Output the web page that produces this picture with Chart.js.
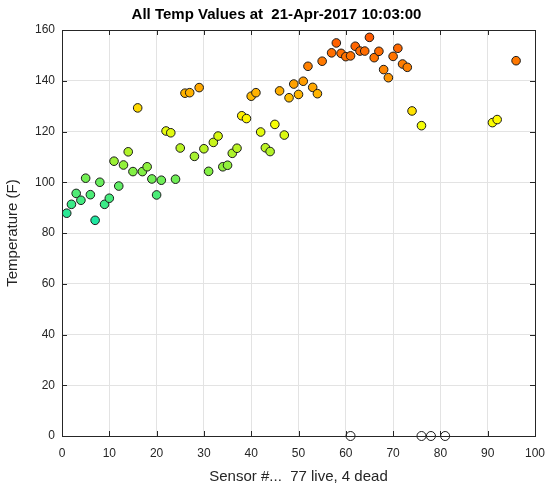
<!DOCTYPE html>
<html lang="en">
<head>
<meta charset="UTF-8">
<title>All Temp Values</title>
<script src="https://cdn.jsdelivr.net/npm/chart.js"></script>
<style>
    body { margin: 0; background: #fff; }
    .wrap { position: relative; width: 553px; height: 490px; }
</style>
</head>
<body>
<div class="wrap"><canvas id="tempChart"></canvas></div>
<script>
// live sensors: sensor number and temperature (F)
const liveSensors = [1,2,3,4,5,6,7,8,9,10,11,12,13,14,15,16,17,18,19,20,
    21,22,23,24,25,26,27,28,29,30,31,32,33,34,35,36,37,38,39,40,
    41,42,43,44,45,46,47,48,49,50,51,52,53,54,55,57,58,59,60,61,
    62,63,64,65,66,67,68,69,70,71,72,73,74,76,91,92,96];
const liveTemps = [87.8,91.3,95.6,92.9,101.6,95.1,85.0,100.0,91.3,93.7,
    108.3,98.5,106.8,112.0,104.2,129.3,104.2,106.1,101.3,95.0,
    100.8,120.2,119.5,101.2,113.5,135.1,135.3,110.2,137.3,113.2,
    104.3,115.7,118.2,106.1,106.7,111.4,113.4,126.2,125.1,133.9,
    135.3,119.8,113.6,112.1,122.8,136.0,118.6,133.3,138.7,134.6,
    139.8,145.7,137.4,134.9,147.7,151.0,154.9,150.8,149.5,149.8,
    153.6,151.7,151.7,157.1,149.1,151.6,144.4,141.2,149.6,152.8,
    146.6,145.3,128.1,122.3,123.5,124.7,147.9];
// dead sensors sit at zero
const deadSensors = [61, 76, 78, 81];
const deadTemps = [0, 0, 0, 0];

const xTicks = [0,10,20,30,40,50,60,70,80,90,100];
const yTicks = [0,20,40,60,80,100,120,140,160];

// colour ramp: temp -> rgb
const rampStops = [
    [85, [30, 230, 160]],
    [95, [75, 236, 120]],
    [105, [135, 240, 65]],
    [115, [195, 244, 30]],
    [124, [255, 255, 0]],
    [134, [255, 184, 0]],
    [145, [255, 130, 0]],
    [157, [255, 90, 0]]
];
function tempColor(t) {
    if (t <= rampStops[0][0]) return 'rgb(' + rampStops[0][1].join(',') + ')';
    for (let i = 1; i < rampStops.length; i++) {
        if (t <= rampStops[i][0]) {
            const a = rampStops[i-1], b = rampStops[i];
            const f = (t - a[0]) / (b[0] - a[0]);
            const c = a[1].map((v, k) => Math.round(v + (b[1][k] - v) * f));
            return 'rgb(' + c.join(',') + ')';
        }
    }
    return 'rgb(' + rampStops[rampStops.length-1][1].join(',') + ')';
}

const axisColor = '#262626';
const fontFam = '"Liberation Sans", Arial, Helvetica, sans-serif';

// box round the plot plus inward ticks, like matlab
const boxPlugin = {
    id: 'boxPlugin',
    afterDraw(chart) {
        const {ctx, chartArea: a, scales} = chart;
        ctx.save();
        ctx.strokeStyle = axisColor;
        ctx.lineWidth = 1;
        ctx.beginPath();
        xTicks.forEach(v => {
            const px = Math.round(scales.x.getPixelForValue(v)) + 0.5;
            ctx.moveTo(px, a.bottom); ctx.lineTo(px, a.bottom - 5);
            ctx.moveTo(px, a.top); ctx.lineTo(px, a.top + 5);
        });
        yTicks.forEach(v => {
            const py = Math.round(scales.y.getPixelForValue(v)) + 0.5;
            ctx.moveTo(a.left, py); ctx.lineTo(a.left + 5, py);
            ctx.moveTo(a.right, py); ctx.lineTo(a.right - 5, py);
        });
        ctx.stroke();
        ctx.strokeRect(Math.round(a.left) + 0.5, Math.round(a.top) + 0.5,
            Math.round(a.right - a.left), Math.round(a.bottom - a.top));
        ctx.restore();
    }
};

const ctx = document.getElementById('tempChart').getContext('2d');
new Chart(ctx, {
    type: 'scatter',
    data: {
        datasets: [{
            label: 'live',
            data: liveSensors.map((s, i) => ({x: s, y: liveTemps[i]})),
            backgroundColor: liveTemps.map(tempColor),
            borderColor: '#1a1a1a',
            borderWidth: 1,
            pointRadius: 4.3,
            clip: false
        }, {
            label: 'dead',
            data: deadSensors.map((s, i) => ({x: s, y: deadTemps[i]})),
            backgroundColor: 'rgba(0,0,0,0)',
            borderColor: '#1a1a1a',
            borderWidth: 1,
            pointRadius: 4.5,
            clip: false
        }]
    },
    options: {
        responsive: true,
        maintainAspectRatio: false,
        animation: false,
        layout: { padding: { right: 0, top: 0 } },
        plugins: {
            legend: { display: false },
            tooltip: { enabled: false },
            title: {
                display: true,
                text: 'All Temp Values at  21-Apr-2017 10:03:00',
                color: '#000',
                font: { family: fontFam, size: 15, weight: 'bold' },
                padding: { top: 6, bottom: 6 }
            }
        },
        scales: {
            x: {
                type: 'linear',
                min: 0, max: 100,
                afterBuildTicks: s => { s.ticks = xTicks.map(v => ({value: v})); },
                afterFit: s => { s.height = 54; s.paddingRight = 18; },
                grid: { color: '#e3e3e3', drawTicks: false },
                border: { display: false },
                ticks: { color: axisColor, padding: 10, font: { family: fontFam, size: 12 } },
                title: {
                    display: true,
                    text: 'Sensor #...  77 live, 4 dead',
                    color: axisColor,
                    padding: { top: 2 },
                    font: { family: fontFam, size: 15 }
                }
            },
            y: {
                type: 'linear',
                min: 0, max: 160,
                afterBuildTicks: s => { s.ticks = yTicks.map(v => ({value: v})); },
                afterFit: s => { s.width = 62; },
                grid: { color: '#e3e3e3', drawTicks: false },
                border: { display: false },
                ticks: { color: axisColor, padding: 7, font: { family: fontFam, size: 12 } },
                title: {
                    display: true,
                    text: 'Temperature (F)',
                    color: axisColor,
                    padding: { bottom: 2 },
                    font: { family: fontFam, size: 15 }
                }
            }
        }
    },
    plugins: [boxPlugin]
});
</script>
</body>
</html>
